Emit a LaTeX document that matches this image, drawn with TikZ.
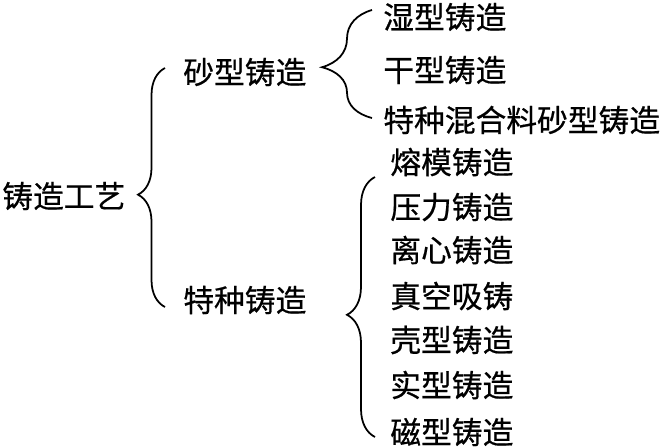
\documentclass[tikz,border=0pt]{standalone}
\usepackage{fontspec}
\newfontfamily\cjk{Noto Sans CJK SC}[FakeBold=0.6]
\usepackage{tikz}
\usetikzlibrary{decorations.pathreplacing}
\tikzstyle{item} = [anchor=west, inner sep=0pt, font=\cjk\fontsize{17.5}{20}\selectfont]
\tikzstyle{brace} = [decorate, line width=1pt]

\begin{document}
\begin{tikzpicture}[x=0.02cm, y=-0.02cm]
    \useasboundingbox (0,0) rectangle (667,447);
    \node[item] (root)    at (2,196)   {铸造工艺};
    \node[item] (sand)    at (183,72)  {砂型铸造};
    \node[item] (special) at (183,300) {特种铸造};
    \node[item] (wet)     at (383,17)  {湿型铸造};
    \node[item] (dry)     at (383,70)  {干型铸造};
    \node[item] (mixed)   at (383,120) {特种混合料砂型铸造};
    \node[item] (lost)    at (390,162) {熔模铸造};
    \node[item] (die)     at (390,207) {压力铸造};
    \node[item] (centri)  at (390,250) {离心铸造};
    \node[item] (vacuum)  at (390,296) {真空吸铸};
    \node[item] (shell)   at (390,340) {壳型铸造};
    \node[item] (full)    at (390,385) {实型铸造};
    \node[item] (magnet)  at (390,432) {磁型铸造};
    \coordinate (sptop) at (375,177);
    \coordinate (spbot) at (375,437);
    \draw[brace, decoration={brace, amplitude=0.54cm, aspect=0.47}]
        ([xshift=-0.36cm, yshift=-0.14cm]special.west) -- ([xshift=-0.36cm, yshift=0.08cm]sand.west);
    \draw[brace, decoration={brace, amplitude=1.0cm, aspect=0.47}]
        ([xshift=-0.22cm, yshift=0.04cm]mixed.west) -- ([xshift=-0.22cm, yshift=0.14cm]wet.west);
    \draw[brace, decoration={brace, amplitude=0.56cm, aspect=0.47}]
        (spbot) -- (sptop);
\end{tikzpicture}
\end{document}
